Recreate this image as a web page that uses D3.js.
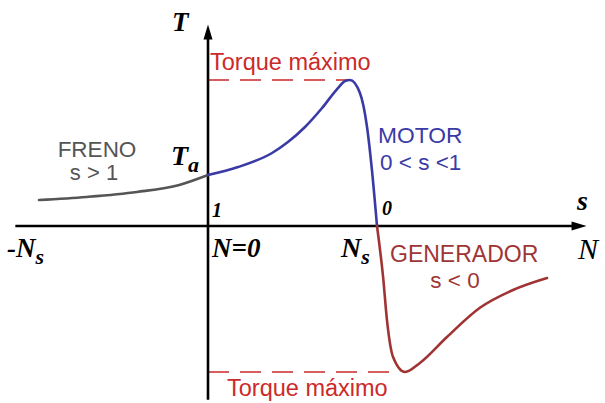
<!DOCTYPE html>
<html><head><meta charset="utf-8">
<script src="https://cdn.jsdelivr.net/npm/d3@7"></script>
<style>html,body{margin:0;padding:0;background:#fff}</style>
</head><body>
<svg id="c" width="605" height="403"></svg>
<script>
// Speed N in units of Ns, torque T in units of Tmax
const brakeN   = [-1.0, -0.72, -0.42, -0.17, 0];
const brakeT   = [0.178, 0.199, 0.233, 0.281, 0.349];
const motorN   = [0, 0.178, 0.379, 0.473, 0.574, 0.675, 0.769, 0.811, 0.84, 0.899, 0.941, 0.970, 1.0];
const motorT   = [0.349, 0.404, 0.5, 0.575, 0.678, 0.808, 0.945, 0.993, 1.0, 0.911, 0.678, 0.384, 0];
const genN     = [1.0, 1.036, 1.059, 1.095, 1.166, 1.254, 1.414, 1.609, 1.805, 2.006];
const genT     = [0, -0.349, -0.644, -0.897, -1.0, -0.938, -0.76, -0.56, -0.438, -0.356];
const tMax = 1.0, tMin = -1.0;

const svg = d3.select("#c");
const x = d3.scaleLinear().domain([0, 1]).range([208, 377]);
const y = d3.scaleLinear().domain([0, 1]).range([226, 80]);

const serif = "'Liberation Serif','Times New Roman',serif";
const sans = "'Liberation Sans',Arial,sans-serif";
const red = "#cc2a2a", blue = "#3a3aa6", dred = "#a03434", gray = "#555";

// dashed torque max lines
svg.append("line").attr("x1", x(0)).attr("x2", x(0.84)).attr("y1", y(tMax)).attr("y2", y(tMax))
  .attr("stroke", red).attr("stroke-width", 1.6).attr("stroke-dasharray", "21,11");
svg.append("line").attr("x1", x(0)).attr("x2", x(1.166) - 14).attr("y1", y(tMin)).attr("y2", y(tMin))
  .attr("stroke", red).attr("stroke-width", 1.6).attr("stroke-dasharray", "21,11");

// axes
svg.append("line").attr("x1", x(-1.14)).attr("x2", x(2.18)).attr("y1", y(0)).attr("y2", y(0))
  .attr("stroke", "#000").attr("stroke-width", 2.6);
svg.append("path").attr("d", `M${x(2.24)},${y(0)} L${x(2.24)-15},${y(0)-4.5} L${x(2.24)-15},${y(0)+4.5} Z`).attr("fill", "#000");
svg.append("line").attr("x1", x(0)).attr("x2", x(0)).attr("y1", y(1.32)).attr("y2", y(-1.19))
  .attr("stroke", "#000").attr("stroke-width", 2.6);
svg.append("path").attr("d", `M${x(0)},${y(1.38)} L${x(0)-4.5},${y(1.38)+15} L${x(0)+4.5},${y(1.38)+15} Z`).attr("fill", "#000");

const line = d3.line().x(d => x(d[0])).y(d => y(d[1])).curve(d3.curveMonotoneX);
const seg = (N, T, col) => svg.append("path").datum(N.map((n, i) => [n, T[i]]))
  .attr("d", line).attr("fill", "none").attr("stroke", col).attr("stroke-width", 2.6)
  .attr("stroke-linecap", "round");
seg(brakeN, brakeT, gray);
seg(motorN, motorT, blue);
seg(genN, genT, dred);

// text helpers
function txt(t, px, py, o) {
  const e = svg.append("text").attr("x", px).attr("y", py).text(t)
    .attr("font-family", o.f || sans).attr("font-size", o.s).attr("fill", o.c || "#000");
  if (o.b) e.attr("font-weight", "bold");
  if (o.i) e.attr("font-style", "italic");
  if (o.a) e.attr("text-anchor", o.a);
  return e;
}
function sub(main, s, px, py, size, subSize, dx) {
  const e = svg.append("text").attr("x", px).attr("y", py)
    .attr("font-family", serif).attr("font-size", size).attr("font-weight", "bold").attr("font-style", "italic");
  e.append("tspan").text(main);
  e.append("tspan").text(s).attr("font-size", subSize).attr("dy", 7).attr("dx", dx || 0);
}

txt("T", 172, 31, {f: serif, s: 27, b: 1, i: 1});
txt("Torque máximo", 210, 70, {s: 23.5, c: red});
txt("Torque máximo", 227, 396, {s: 23.5, c: red});
txt("FRENO", 97, 157, {s: 22.5, c: gray, a: "middle"});
txt("s > 1", 94, 180, {s: 22, c: gray, a: "middle"});
sub("T", "a", 171, 165, 28, 22, 0);
txt("MOTOR", 378, 143, {s: 22.8, c: blue});
txt("0 < s <1", 380, 170, {s: 22.5, c: blue});
txt("1", 212, 217, {f: serif, s: 20, b: 1, i: 1});
txt("0", 382, 215, {f: serif, s: 20, b: 1, i: 1});
txt("s", 577, 210, {f: serif, s: 28, b: 1, i: 1});
txt("N", 578, 259, {f: serif, s: 30, i: 1});
sub("-N", "s", 7, 257, 27, 22, 0);
txt("N=0", 212, 257, {f: serif, s: 27, b: 1, i: 1});
sub("N", "s", 341, 257, 28, 22, 0);
txt("GENERADOR", 390, 262, {s: 23, c: dred});
txt("s < 0", 455, 288, {s: 22.5, c: dred, a: "middle"});
</script>
</body></html>
